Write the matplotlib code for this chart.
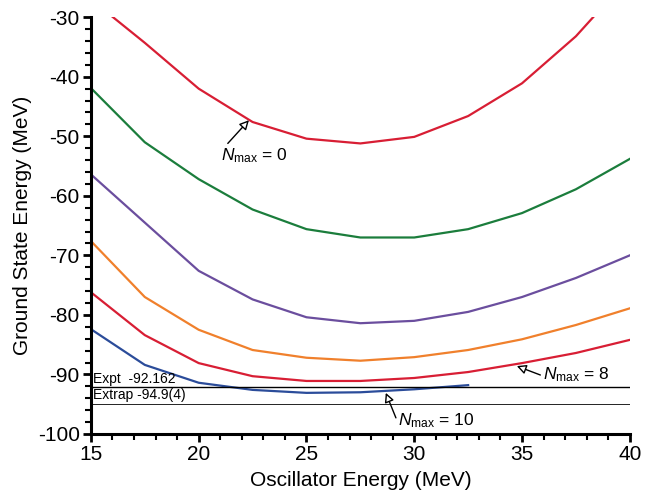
import numpy as np
import matplotlib.pyplot as plt
from matplotlib.ticker import MultipleLocator

plt.rcParams['font.family'] = ['Liberation Sans', 'DejaVu Sans']
plt.rcParams['axes.unicode_minus'] = False
plt.rcParams['mathtext.fontset'] = 'custom'
plt.rcParams['mathtext.it'] = 'Liberation Sans:italic'
plt.rcParams['mathtext.rm'] = 'Liberation Sans'

# oscillator energies (MeV)
hw = [15, 17.5, 20, 22.5, 25, 27.5, 30, 32.5, 35, 37.5, 40]
hw_n10 = [15, 17.5, 20, 22.5, 25, 27.5, 30, 32.5]

# ground state energies (MeV) for each Nmax
e_n0 = [-27.0, -34.3, -42.0, -47.6, -50.4, -51.2, -50.1, -46.6, -41.1, -33.2, -23.2]
e_n2 = [-41.9, -51.0, -57.2, -62.3, -65.6, -67.0, -67.0, -65.6, -62.9, -58.9, -53.8]
e_n4 = [-56.4, -64.5, -72.6, -77.4, -80.4, -81.4, -81.0, -79.5, -77.0, -73.8, -70.0]
e_n6 = [-67.6, -77.0, -82.5, -85.9, -87.2, -87.7, -87.1, -85.9, -84.1, -81.7, -78.9]
e_n8 = [-76.2, -83.4, -88.1, -90.3, -91.1, -91.1, -90.6, -89.6, -88.1, -86.4, -84.2]
e_n10 = [-82.4, -88.4, -91.4, -92.6, -93.1, -93.0, -92.5, -91.8]

expt = -92.162
extrap = -94.9

fig = plt.figure(figsize=(6.54, 4.92), dpi=100)
ax = fig.add_axes([0.139, 0.118, 0.824, 0.847])

lw = 1.6
ax.plot(hw, e_n0, color='#d81e34', lw=lw)
ax.plot(hw, e_n2, color='#1b7d3c', lw=lw)
ax.plot(hw, e_n4, color='#6b4e9e', lw=lw)
ax.plot(hw, e_n6, color='#f0802c', lw=lw)
ax.plot(hw, e_n8, color='#d81e34', lw=lw)
ax.plot(hw_n10, e_n10, color='#2b4c9a', lw=lw)

ax.axhline(expt, color='black', lw=1.0)
ax.axhline(extrap, color='black', lw=0.6)
ax.text(15.1, expt + 0.2, 'Expt  -92.162', fontsize=10, va='bottom')
ax.text(15.1, extrap + 0.2, 'Extrap -94.9(4)', fontsize=10, va='bottom')

# arrows: (tail, tip), then labels
arrow = dict(arrowstyle='-|>,head_length=0.55,head_width=0.28', fc='white', ec='black',
             lw=1, shrinkA=0, shrinkB=0)
ax.annotate('', xy=(22.33, -47.3), xytext=(21.35, -51.2), arrowprops=arrow)
ax.annotate('', xy=(34.76, -88.6), xytext=(35.85, -90.1), arrowprops=arrow)
ax.annotate('', xy=(28.68, -93.1), xytext=(29.15, -97.3), arrowprops=arrow)

lab = r'$N_{\mathrm{max}}$ = '
ax.text(21.03, -54.0, lab + '0', fontsize=12.5, va='baseline')
ax.text(35.97, -90.9, lab + '8', fontsize=12.5, va='baseline')
ax.text(29.24, -98.5, lab + '10', fontsize=12.5, va='baseline')

ax.set_xlim(15, 40)
ax.set_ylim(-100, -30)
ax.xaxis.set_major_locator(MultipleLocator(5))
ax.xaxis.set_minor_locator(MultipleLocator(1))
ax.yaxis.set_major_locator(MultipleLocator(10))
ax.yaxis.set_minor_locator(MultipleLocator(2))

for s in ['top', 'right']:
    ax.spines[s].set_visible(False)
for s in ['left', 'bottom']:
    ax.spines[s].set_linewidth(2.2)

ax.tick_params(which='major', length=6, width=2, labelsize=15, direction='out', pad=2)
ax.tick_params(which='minor', length=4, width=1.5, direction='out')

ax.set_xlabel('Oscillator Energy (MeV)', fontsize=15, labelpad=5)
ax.set_ylabel('Ground State Energy (MeV)', fontsize=15, labelpad=4)

fig.savefig('out.png', dpi=100)
